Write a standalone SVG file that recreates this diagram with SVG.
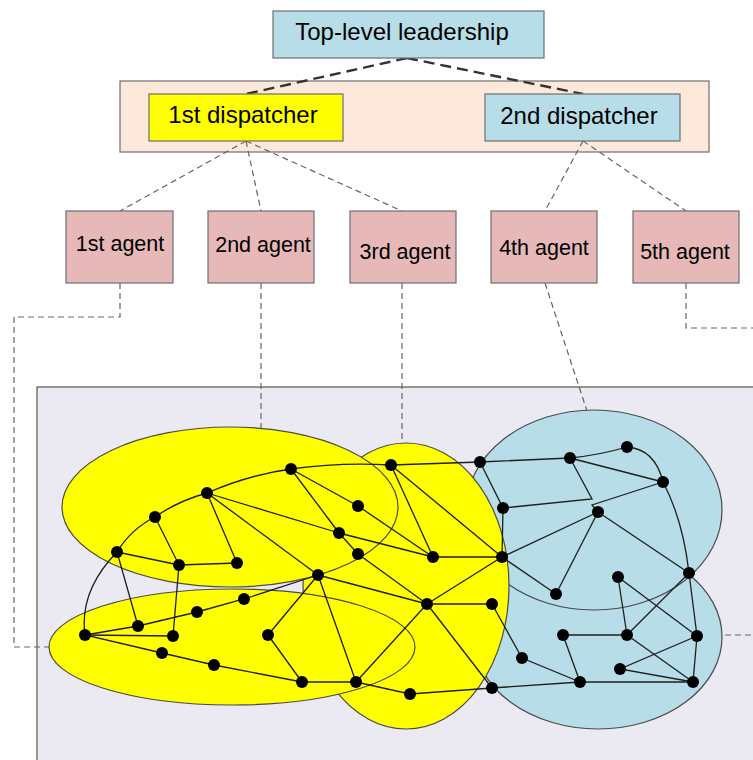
<svg xmlns="http://www.w3.org/2000/svg" width="753" height="760" viewBox="0 0 753 760">
  <style>
    .box { stroke: #6f6f6f; stroke-width: 1.2; }
    .blue { fill: #b7dde8; }
    .yellow { fill: #ffff00; }
    .peach { fill: #fde9dc; }
    .agent { fill: #e6b9b8; }
    .lbl { font-family: "Liberation Sans", Arial, sans-serif; fill: #000; text-anchor: middle; }
    .big { font-size: 24px; }
    .small { font-size: 21.5px; }
    .dash-thick { fill: none; stroke: #333; stroke-width: 2.4; stroke-dasharray: 11 6; }
    .dash-thin { fill: none; stroke: #666; stroke-width: 1.2; stroke-dasharray: 6 4; }
    .zone { stroke: #4a4a4a; stroke-width: 1.2; }
    .e { fill: none; stroke: #1e1e1e; stroke-width: 1.3; }
    .v { fill: #000; }
  </style>

  <!-- network area background -->
  <rect x="37" y="387" width="730" height="380" fill="#ebe9f1" stroke="#555" stroke-width="1.2"/>

  <!-- dispatcher layer band -->
  <g id="dispatch-layer">
    <rect class="box peach" x="120" y="81" width="589" height="71"/>
  </g>

  <!-- hierarchy and link connectors -->
  <g id="connectors">
    <path class="dash-thick" d="M407,58 L246,94"/>
    <path class="dash-thick" d="M407,58 L583,94"/>
    <path class="dash-thin" d="M246,141 L120,211"/>
    <path class="dash-thin" d="M246,141 L261,211"/>
    <path class="dash-thin" d="M246,141 L402,211"/>
    <path class="dash-thin" d="M583,141 L545,211"/>
    <path class="dash-thin" d="M583,141 L686,211"/>
    <path class="dash-thin" d="M120,283 V317 H14 V647 H49"/>
    <path class="dash-thin" d="M261,283 V428"/>
    <path class="dash-thin" d="M402,283 V443"/>
    <path class="dash-thin" d="M545,283 L587,411"/>
    <path class="dash-thin" d="M686,283 V328 H753"/>
    <path class="dash-thin" d="M725,635 H753"/>
  </g>

  <!-- hierarchy nodes -->
  <g id="leadership">
    <rect class="box blue" x="273" y="11" width="271" height="47"/>
    <text class="lbl big" x="402" y="40">Top-level leadership</text>
  </g>
  <g id="dispatcher-1">
    <rect class="box yellow" x="149" y="94" width="194" height="47"/>
    <text class="lbl big" x="243" y="123">1st dispatcher</text>
  </g>
  <g id="dispatcher-2">
    <rect class="box blue" x="485" y="94" width="195" height="47"/>
    <text class="lbl big" x="579" y="124">2nd dispatcher</text>
  </g>
  <g id="agent-1">
    <rect class="box agent" x="66" y="211" width="107" height="72"/>
    <text class="lbl small" x="120" y="251">1st agent</text>
  </g>
  <g id="agent-2">
    <rect class="box agent" x="208" y="211" width="106" height="72"/>
    <text class="lbl small" x="263" y="252">2nd agent</text>
  </g>
  <g id="agent-3">
    <rect class="box agent" x="350" y="211" width="106" height="72"/>
    <text class="lbl small" x="405" y="259">3rd agent</text>
  </g>
  <g id="agent-4">
    <rect class="box agent" x="491" y="211" width="106" height="72"/>
    <text class="lbl small" x="544" y="255">4th agent</text>
  </g>
  <g id="agent-5">
    <rect class="box agent" x="633" y="211" width="106" height="72"/>
    <text class="lbl small" x="685" y="259">5th agent</text>
  </g>

  <!-- agent zones -->
  <g id="zones">
    <ellipse class="zone blue" cx="598" cy="637" rx="124" ry="92"/>
    <ellipse class="zone blue" cx="594" cy="510" rx="128" ry="100"/>
    <ellipse class="zone yellow" cx="406" cy="586" rx="103" ry="143"/>
    <ellipse class="zone yellow" cx="230" cy="507" rx="168" ry="80"/>
    <ellipse class="zone yellow" cx="232" cy="647" rx="183" ry="58"/>
  </g>

  <!-- network links -->
  <g id="links">
    <!-- outer ring -->
    <path class="e" d="M85,635 Q79,591 117,552 Q131,529 155,517 Q178,501 207,493 Q248,475 291,469 Q341,462 391,465 L480,462 L570,458 Q600,455 627,447 Q655,449 663,482 Q683,520 689,573 L697,636 L693,682 L580,682 L492,688 L410,694 L356,682 L302,682 L214,665 L162,653 Z"/>
    <path class="e" d="M155,517 L179,565"/>
    <path class="e" d="M117,552 L179,565"/>
    <path class="e" d="M179,565 L237,563"/>
    <path class="e" d="M207,493 L237,563"/>
    <path class="e" d="M179,565 L173,636"/>
    <path class="e" d="M85,635 L173,636"/>
    <path class="e" d="M117,552 L138,626"/>
    <path class="e" d="M85,635 L138,626 L197,612 L244,599 L318,575"/>
    <path class="e" d="M207,493 L339,533"/>
    <path class="e" d="M207,493 L318,575"/>
    <path class="e" d="M291,469 L358,506"/>
    <path class="e" d="M291,469 L339,533"/>
    <path class="e" d="M339,533 L358,554"/>
    <path class="e" d="M358,554 L427,604"/>
    <path class="e" d="M358,506 L433,557"/>
    <path class="e" d="M339,533 L433,557"/>
    <path class="e" d="M391,465 L433,557"/>
    <path class="e" d="M391,465 L502,557"/>
    <path class="e" d="M433,557 L502,557"/>
    <path class="e" d="M318,575 L427,604"/>
    <path class="e" d="M318,575 L268,635"/>
    <path class="e" d="M318,575 L356,682"/>
    <path class="e" d="M268,635 L302,682"/>
    <path class="e" d="M427,604 L502,557"/>
    <path class="e" d="M427,604 L492,604"/>
    <path class="e" d="M427,604 L356,682"/>
    <path class="e" d="M427,604 L492,688"/>
    <path class="e" d="M480,462 L503,508 L502,557"/>
    <path class="e" d="M502,557 L598,512"/>
    <path class="e" d="M502,557 L556,594"/>
    <path class="e" d="M598,512 L556,594"/>
    <path class="e" d="M598,512 L689,573"/>
    <path class="e" d="M663,482 L592,505 L598,512"/>
    <path class="e" d="M570,458 L663,482"/>
    <path class="e" d="M570,458 L592,499 L503,508"/>
    <path class="e" d="M492,604 L522,658 L580,682"/>
    <path class="e" d="M563,635 L580,682"/>
    <path class="e" d="M563,635 L627,635"/>
    <path class="e" d="M627,635 L689,573"/>
    <path class="e" d="M627,635 L618,577"/>
    <path class="e" d="M627,635 L693,682"/>
    <path class="e" d="M618,577 L697,636"/>
    <path class="e" d="M697,636 L620,669 L693,682"/>
  </g>

  <!-- network nodes -->
  <g id="v1"><circle class="v" cx="291" cy="469" r="6"/></g>
  <g id="v2"><circle class="v" cx="207" cy="493" r="6"/></g>
  <g id="v3"><circle class="v" cx="155" cy="517" r="6"/></g>
  <g id="v4"><circle class="v" cx="117" cy="552" r="6"/></g>
  <g id="v5"><circle class="v" cx="179" cy="565" r="6"/></g>
  <g id="v6"><circle class="v" cx="237" cy="563" r="6"/></g>
  <g id="v7"><circle class="v" cx="358" cy="506" r="6"/></g>
  <g id="v8"><circle class="v" cx="339" cy="533" r="6"/></g>
  <g id="v9"><circle class="v" cx="358" cy="554" r="6"/></g>
  <g id="v10"><circle class="v" cx="318" cy="575" r="6"/></g>
  <g id="v11"><circle class="v" cx="391" cy="465" r="6"/></g>
  <g id="v12"><circle class="v" cx="433" cy="557" r="6"/></g>
  <g id="v13"><circle class="v" cx="502" cy="557" r="6"/></g>
  <g id="v14"><circle class="v" cx="480" cy="462" r="6"/></g>
  <g id="v15"><circle class="v" cx="503" cy="508" r="6"/></g>
  <g id="v16"><circle class="v" cx="570" cy="458" r="6"/></g>
  <g id="v17"><circle class="v" cx="627" cy="447" r="6"/></g>
  <g id="v18"><circle class="v" cx="663" cy="482" r="6"/></g>
  <g id="v19"><circle class="v" cx="598" cy="512" r="6"/></g>
  <g id="v20"><circle class="v" cx="556" cy="594" r="6"/></g>
  <g id="v21"><circle class="v" cx="689" cy="573" r="6"/></g>
  <g id="v22"><circle class="v" cx="618" cy="577" r="6"/></g>
  <g id="v23"><circle class="v" cx="427" cy="604" r="6"/></g>
  <g id="v24"><circle class="v" cx="492" cy="604" r="6"/></g>
  <g id="v25"><circle class="v" cx="244" cy="599" r="6"/></g>
  <g id="v26"><circle class="v" cx="197" cy="612" r="6"/></g>
  <g id="v27"><circle class="v" cx="138" cy="626" r="6"/></g>
  <g id="v28"><circle class="v" cx="85" cy="635" r="6"/></g>
  <g id="v29"><circle class="v" cx="173" cy="636" r="6"/></g>
  <g id="v30"><circle class="v" cx="268" cy="635" r="6"/></g>
  <g id="v31"><circle class="v" cx="162" cy="653" r="6"/></g>
  <g id="v32"><circle class="v" cx="214" cy="665" r="6"/></g>
  <g id="v33"><circle class="v" cx="302" cy="682" r="6"/></g>
  <g id="v34"><circle class="v" cx="356" cy="682" r="6"/></g>
  <g id="v35"><circle class="v" cx="410" cy="694" r="6"/></g>
  <g id="v36"><circle class="v" cx="492" cy="688" r="6"/></g>
  <g id="v37"><circle class="v" cx="522" cy="658" r="6"/></g>
  <g id="v38"><circle class="v" cx="563" cy="635" r="6"/></g>
  <g id="v39"><circle class="v" cx="580" cy="682" r="6"/></g>
  <g id="v40"><circle class="v" cx="627" cy="635" r="6"/></g>
  <g id="v41"><circle class="v" cx="697" cy="636" r="6"/></g>
  <g id="v42"><circle class="v" cx="620" cy="669" r="6"/></g>
  <g id="v43"><circle class="v" cx="693" cy="682" r="6"/></g>
</svg>
